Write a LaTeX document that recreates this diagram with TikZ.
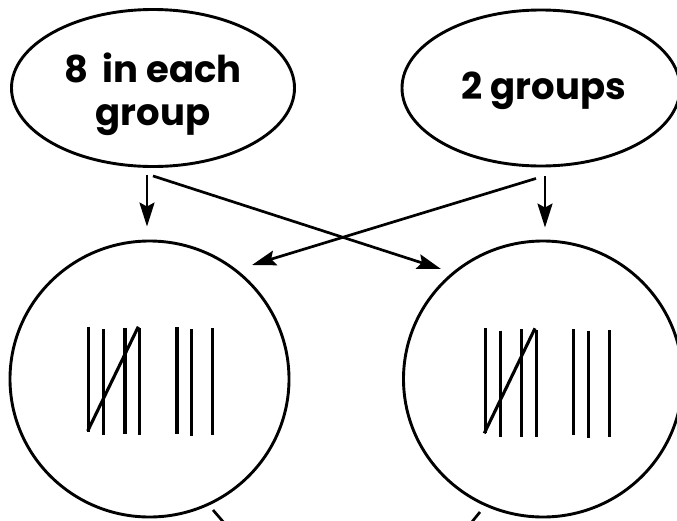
\documentclass[tikz,border=0pt]{standalone}
\usepackage{fontspec}
\setmainfont{Poppins}
\usetikzlibrary{shapes.geometric,arrows.meta}
\begin{document}
\begin{tikzpicture}[x=1pt,y=-1pt,
  ell/.style={ellipse, draw, line width=2.9pt, inner sep=0pt},
  circ/.style={ellipse, draw, line width=2.9pt, inner sep=0pt, minimum width=279pt, minimum height=276pt},
  lbl/.style={font=\fontsize{37}{43}\selectfont\bfseries, align=center, inner sep=0pt},
  arr/.style={line width=2.7pt, -{Stealth[length=24pt,width=15pt,inset=4pt]}},
  tally/.style={line width=3.1pt},
  tail/.style={line width=2.7pt}
]
\clip (0,0) rectangle (677,520);
\fill[white] (0,0) rectangle (677,520);
\node[ell, minimum width=283pt, minimum height=157pt] (e1) at (153,88) {};
\node[ell, minimum width=278pt, minimum height=156pt] (e2) at (541,88) {};
\node[lbl] (t1) at (153,94) {8\hspace{0.4em}in each\\group};
\node[lbl] (t2) at (544,91) {2 groups};
\node[circ] (c1) at (149.5,379) {};
\node[circ] (c2) at (543,379) {};
% arrows
\draw[arr] ([shift={(-6,7)}]e1.south) -- ([shift={(-2.5,-13)}]c1.north);
\draw[arr] ([shift={(0,8)}]e1.south) -- ([shift={(-102,-110)}]c2.center);
\draw[arr] ([shift={(-5,11)}]e2.south) -- ([shift={(102.5,-114)}]c1.center);
\draw[arr] ([shift={(4,9)}]e2.south) -- ([shift={(2,-12)}]c2.north);
% tails leaving the picture
\coordinate (o1) at (232,532);
\coordinate (o2) at (462,534);
\draw[tail] ([shift={(63.5,131)}]c1.center) -- (o1);
\draw[tail] ([shift={(-63,133)}]c2.center) -- (o2);
% tallies left
\draw[tally] (88.7,326.7) -- (88.7,431.7);
\draw[tally] (103.7,329.3) -- (103.7,435.3);
\draw[tally] (125,327.7) -- (125,434.3);
\draw[tally] (139.7,328.3) -- (139.7,435);
\draw[tally] (177,327) -- (177,433.7);
\draw[tally] (191.7,329.3) -- (191.7,436);
\draw[tally] (212.7,328.3) -- (212.7,435);
\draw[tally] (87.7,431) -- (138.3,326.7);
% tallies right
\draw[tally] (485.3,328.3) -- (485.3,433.3);
\draw[tally] (500.7,330.7) -- (500.7,437.3);
\draw[tally] (521.7,329.3) -- (521.7,436.7);
\draw[tally] (536.3,330) -- (536.3,436.7);
\draw[tally] (573.7,329) -- (573.7,435.3);
\draw[tally] (588.3,331) -- (588.3,438.3);
\draw[tally] (609.7,330.3) -- (609.7,437.3);
\draw[tally] (484.3,433.3) -- (535,328.3);
\end{tikzpicture}
\end{document}
